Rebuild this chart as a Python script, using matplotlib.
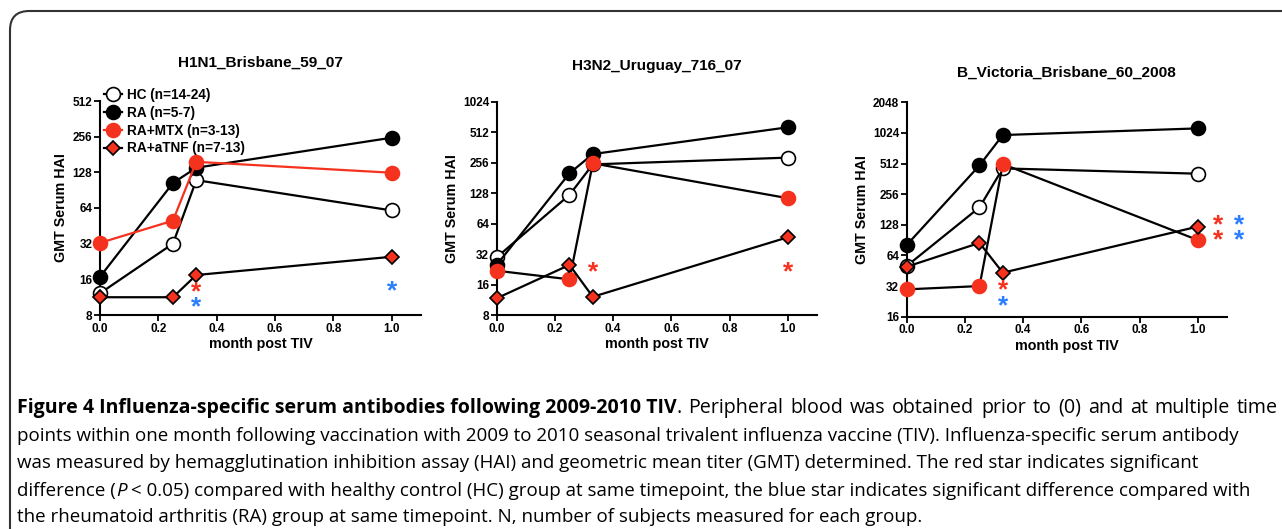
import matplotlib.pyplot as plt
from matplotlib.lines import Line2D
from matplotlib.patches import FancyBboxPatch

RED = '#f5321e'
BLUE = '#2a7fff'

months = [0.0, 0.25, 0.33, 1.0]

titles = ['H1N1_Brisbane_59_07', 'H3N2_Uruguay_716_07', 'B_Victoria_Brisbane_60_2008']
group_labels = ['HC (n=14-24)', 'RA (n=5-7)', 'RA+MTX (n=3-13)', 'RA+aTNF (n=7-13)']

# GMT, one list per group and strain
h1_hc = [12.2, 32, 110, 61]
h1_ra = [16.8, 104, 140, 251]
h1_mtx = [32.5, 50, 157, 127]
h1_tnf = [11.3, 11.3, 17.4, 24.8]

h3_hc = [29.7, 123, 246, 287]
h3_ra = [25, 201, 311, 572]
h3_mtx = [21.9, 18, 252, 114]
h3_tnf = [11.7, 25, 12.1, 46.9]

b_hc = [50.4, 190, 459, 407]
b_ra = [81, 491, 976, 1135]
b_mtx = [29.7, 32, 506, 90.6]
b_tnf = [49.6, 85, 43.3, 123]

y_ticks = [
    [8, 16, 32, 64, 128, 256, 512],
    [8, 16, 32, 64, 128, 256, 512, 1024],
    [16, 32, 64, 128, 256, 512, 1024, 2048],
]
x_ticks = [0.0, 0.2, 0.4, 0.6, 0.8, 1.0]

# significance stars: (month, level, colour)
h1_stars = [(0.33, 12.5, 'red'), (0.33, 9.3, 'blue'), (1.0, 12.8, 'blue')]
h3_stars = [(0.33, 21, 'red'), (1.0, 21, 'red')]
b_stars = [(0.33, 28.8, 'red'), (0.33, 20.1, 'blue'),
           (1.069, 127, 'red'), (1.14, 127, 'blue'),
           (1.069, 90.6, 'red'), (1.14, 90.6, 'blue')]

panels = [
    (h1_hc, h1_ra, h1_mtx, h1_tnf, h1_stars),
    (h3_hc, h3_ra, h3_mtx, h3_tnf, h3_stars),
    (b_hc, b_ra, b_mtx, b_tnf, b_stars),
]

caption_bold = 'Figure 4 Influenza-specific serum antibodies following 2009-2010 TIV'
caption_first = '. Peripheral blood was obtained prior to (0) and at multiple time'
caption_lines = [
    'points within one month following vaccination with 2009 to 2010 seasonal trivalent influenza vaccine (TIV). Influenza-specific serum antibody',
    'was measured by hemagglutination inhibition assay (HAI) and geometric mean titer (GMT) determined. The red star indicates significant',
    None,
    'the rheumatoid arthritis (RA) group at same timepoint. N, number of subjects measured for each group.',
]
caption_p_parts = ['difference (', 'P', ' < 0.05) compared with healthy control (HC) group at same timepoint, the blue star indicates significant difference compared with']

W, H = 1282, 529
fig = plt.figure(figsize=(W / 100, H / 100), dpi=100)
plt.rcParams['font.family'] = ['Liberation Sans', 'DejaVu Sans']

# rounded frame round the figure, cut off at right and bottom
fig.patches.append(FancyBboxPatch((10 / W, -0.2), 1.2, 1.2 - 11 / H,
                                  boxstyle='round,pad=0,rounding_size=0.015',
                                  transform=fig.transFigure, fill=False,
                                  edgecolor='#333333', linewidth=1.5,
                                  mutation_aspect=W / H))

# axes boxes in pixels: left, right (x=1.1), top, bottom
boxes = [(100, 421, 101, 315), (496.7, 817, 101.7, 315), (906.7, 1227, 102.3, 316.7)]
title_pad = [24.5, 22.5, 18.6]

star_col = {'red': RED, 'blue': BLUE}
mk = dict(markersize=10, markeredgewidth=1.2)

for i, (hc, ra, mtx, tnf, stars) in enumerate(panels):
    l, r, t, b = boxes[i]
    ax = fig.add_axes([l / W, (H - b) / H, (r - l) / W, (b - t) / H])
    ax.set_yscale('log', base=2)
    mtx_line = RED if i == 0 else 'black'
    ax.plot(months, hc, '-o', color='black', mfc='white', mec='black', lw=1.6,
            clip_on=False, zorder=3, **mk)
    ax.plot(months, ra, '-o', color='black', mfc='black', mec='black', lw=1.6,
            clip_on=False, zorder=3, **mk)
    ax.plot(months, mtx, '-o', color=mtx_line, mfc=RED, mec=RED, lw=1.6,
            clip_on=False, zorder=3, **mk)
    ax.plot(months, tnf, '-D', color='black', mfc=RED, mec='black',
            markersize=7.4, markeredgewidth=1.2, lw=1.6, clip_on=False, zorder=3)
    for sx, sy, c in stars:
        ax.text(sx, sy, '*', color=star_col[c], fontsize=19, fontweight='bold',
                ha='center', va='center', clip_on=False)
    ax.set_xlim(0, 1.1)
    ax.set_ylim(y_ticks[i][0], y_ticks[i][-1])
    ax.set_yticks(y_ticks[i])
    ax.set_yticklabels([str(v) for v in y_ticks[i]])
    ax.minorticks_off()
    ax.set_xticks(x_ticks)
    ax.set_xticklabels(['%.1f' % v for v in x_ticks])
    for side in ['top', 'right']:
        ax.spines[side].set_visible(False)
    for side in ['left', 'bottom']:
        ax.spines[side].set_linewidth(1.5)
    ax.tick_params(length=4, width=1.3, pad=1.5, labelsize=8.5)
    for lab in ax.get_xticklabels() + ax.get_yticklabels():
        lab.set_fontweight('bold')
    ax.set_xlabel('month post TIV', fontsize=10.3, fontweight='bold', labelpad=2)
    ax.set_ylabel('GMT Serum HAI', fontsize=10.3, fontweight='bold', labelpad=3)
    ax.set_title(titles[i], fontsize=11.1, fontweight='bold', pad=title_pad[i])

handles = [
    Line2D([], [], color='black', marker='o', mfc='white', mec='black', lw=1.6, **mk),
    Line2D([], [], color='black', marker='o', mfc='black', mec='black', lw=1.6, **mk),
    Line2D([], [], color=RED, marker='o', mfc=RED, mec=RED, lw=1.6, **mk),
    Line2D([], [], color='black', marker='D', mfc=RED, mec='black', lw=1.6,
           markersize=7.4, markeredgewidth=1.2),
]
fig.legend(handles, group_labels, loc='upper left',
           bbox_to_anchor=(104 / W, 1 - 88 / H), frameon=False,
           borderpad=0, borderaxespad=0, handlelength=1.3,
           handletextpad=0.4, labelspacing=0.28,
           prop={'weight': 'bold', 'size': 9.8})

# caption
cap_y = [408, 436, 463, 491, 517]
cap_font = ['Open Sans', 'DejaVu Sans']
cap_size = 13.5


def place(txt, x, y, **kw):
    t = fig.text(x / W, 1 - y / H, txt, family=cap_font, va='center',
                 ha='left', **kw)
    fig.canvas.draw()
    return t, t.get_window_extent()


def chain(pieces, y):
    x = 17
    for txt, kw in pieces:
        x = place(txt, x, y, **kw)[1].x1


# first line is justified out to the right margin
_, bb = place(caption_bold, 17, cap_y[0], fontsize=14, fontweight='bold')
words = caption_first.split(' ')
word_w = []
for w in words:
    t, wb = place(w, 0, -100, fontsize=14.2)
    word_w.append(wb.width)
    t.remove()
gap = (1278 - bb.x1 - sum(word_w)) / (len(words) - 1)
x = bb.x1
for w, ww in zip(words, word_w):
    place(w, x, cap_y[0], fontsize=14.2)
    x += ww + gap

for y, line in zip(cap_y[1:], caption_lines):
    if line is None:
        chain([(caption_p_parts[0], dict(fontsize=cap_size)),
               (caption_p_parts[1], dict(fontsize=cap_size, style='italic')),
               (caption_p_parts[2], dict(fontsize=cap_size))], y)
    else:
        fig.text(17 / W, 1 - y / H, line, fontsize=cap_size, family=cap_font,
                 va='center', ha='left')

fig.savefig('out.png', dpi=100)
